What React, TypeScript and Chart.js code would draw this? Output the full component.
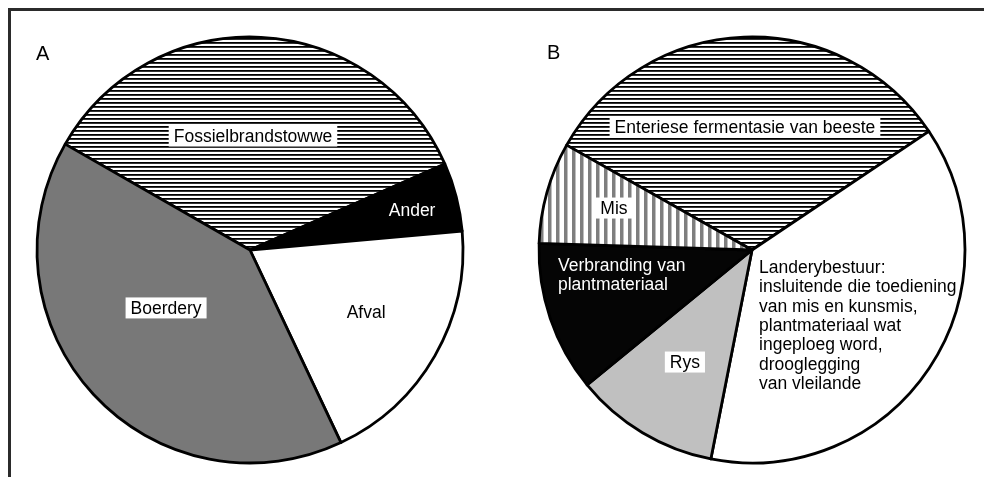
import React, { useEffect, useRef } from "react";
import { Chart, registerables } from "chart.js";

Chart.register(...registerables);

// ---- Data ----
const categoriesA = ["Fossielbrandstowwe", "Ander", "Afval", "Boerdery"];
const valuesA = [35.1, 5.2, 19.4, 40.3];

const categoriesB = [
  "Enteriese fermentasie van beeste",
  "Landerybestuur",
  "Rys",
  "Verbranding van plantmateriaal",
  "Mis",
];
const valuesB = [32.4, 37.5, 11.0, 11.4, 7.7];

const labelLinesA = [["Fossielbrandstowwe"], ["Ander"], ["Afval"], ["Boerdery"]];
const labelLinesB = [
  ["Enteriese fermentasie van beeste"],
  [
    "Landerybestuur:",
    "insluitende die toediening",
    "van mis en kunsmis,",
    "plantmateriaal wat",
    "ingeploeg word,",
    "drooglegging",
    "van vleilande",
  ],
  ["Rys"],
  ["Verbranding van", "plantmateriaal"],
  ["Mis"],
];

const panelTitles = ["A", "B"];

// ---- Layout / style (not data) ----
type LabelStyle = { fx: number; fy: number; color: string; box: boolean; align: "center" | "left" };

const labelStyleA: LabelStyle[] = [
  { fx: 0.014, fy: -0.535, color: "#000", box: true, align: "center" },
  { fx: 0.761, fy: -0.188, color: "#fff", box: false, align: "center" },
  { fx: 0.545, fy: 0.291, color: "#000", box: false, align: "center" },
  { fx: -0.394, fy: 0.272, color: "#000", box: true, align: "center" },
];
const labelStyleB: LabelStyle[] = [
  { fx: -0.033, fy: -0.577, color: "#000", box: true, align: "center" },
  { fx: 0.033, fy: 0.08, color: "#000", box: false, align: "left" },
  { fx: -0.315, fy: 0.526, color: "#000", box: true, align: "center" },
  { fx: -0.911, fy: 0.07, color: "#fff", box: false, align: "left" },
  { fx: -0.648, fy: -0.197, color: "#000", box: true, align: "center" },
];

const FONT = '17.5px "Liberation Sans", Arial, sans-serif';
const LINE_H = 19.4;
const CANVAS = 440;
const RADIUS = 213;

function hStripes(): CanvasPattern | string {
  const c = document.createElement("canvas");
  c.width = 8;
  c.height = 8;
  const x = c.getContext("2d");
  if (!x) return "#888";
  x.fillStyle = "#fff";
  x.fillRect(0, 0, 8, 8);
  x.fillStyle = "#000";
  x.fillRect(0, 0, 8, 1.8);
  x.fillRect(0, 4, 8, 1.8);
  return x.createPattern(c, "repeat") || "#888";
}

function vStripes(): CanvasPattern | string {
  const c = document.createElement("canvas");
  c.width = 8;
  c.height = 8;
  const x = c.getContext("2d");
  if (!x) return "#bbb";
  x.fillStyle = "#fff";
  x.fillRect(0, 0, 8, 8);
  x.fillStyle = "#7e7e7e";
  x.fillRect(0, 0, 3.5, 8);
  return x.createPattern(c, "repeat") || "#bbb";
}

function makeLabelPlugin(lines: string[][], styles: LabelStyle[]) {
  return {
    id: "sliceLabels",
    afterDatasetsDraw(chart: any) {
      const meta = chart.getDatasetMeta(0);
      const ctx: CanvasRenderingContext2D = chart.ctx;
      ctx.save();
      ctx.font = FONT;
      ctx.textBaseline = "middle";
      meta.data.forEach((el: any, i: number) => {
        const st = styles[i];
        const txt = lines[i];
        if (!st || !txt) return;
        const p = el.getProps(["x", "y", "outerRadius"], true);
        const bx = p.x + st.fx * p.outerRadius;
        const by = p.y + st.fy * p.outerRadius;
        txt.forEach((line, k) => {
          const w = ctx.measureText(line).width;
          const ly = by + k * LINE_H;
          const left = st.align === "center" ? bx - w / 2 : bx;
          if (st.box) {
            ctx.fillStyle = "#fff";
            ctx.fillRect(left - 5, ly - 10.5, w + 10, 21);
          }
          ctx.fillStyle = st.color;
          ctx.textAlign = "left";
          ctx.fillText(line, left, ly + 1);
        });
      });
      ctx.restore();
    },
  };
}

function makeChart(
  canvas: HTMLCanvasElement,
  labels: string[],
  values: number[],
  colors: (string | CanvasPattern)[],
  rotation: number,
  plugin: any
) {
  return new Chart(canvas, {
    type: "pie",
    data: {
      labels,
      datasets: [
        {
          data: values,
          backgroundColor: colors as any,
          borderColor: "#000",
          borderWidth: 2.8,
          borderJoinStyle: "round",
        } as any,
      ],
    },
    options: {
      responsive: false,
      animation: false,
      rotation,
      radius: RADIUS,
      events: [],
      layout: { padding: 0 },
      plugins: {
        legend: { display: false },
        tooltip: { enabled: false },
      },
    } as any,
    plugins: [plugin],
  });
}

export default function App() {
  const refA = useRef<HTMLCanvasElement>(null);
  const refB = useRef<HTMLCanvasElement>(null);

  useEffect(() => {
    if (!refA.current || !refB.current) return;
    const chartA = makeChart(
      refA.current,
      categoriesA,
      valuesA,
      [hStripes(), "#000000", "#ffffff", "#787878"],
      -60.2,
      makeLabelPlugin(labelLinesA, labelStyleA)
    );
    const chartB = makeChart(
      refB.current,
      categoriesB,
      valuesB,
      [hStripes(), "#ffffff", "#c0c0c0", "#050505", vStripes()],
      -60.5,
      makeLabelPlugin(labelLinesB, labelStyleB)
    );
    return () => {
      chartA.destroy();
      chartB.destroy();
    };
  }, []);

  const titleStyle: React.CSSProperties = {
    position: "absolute",
    font: '20px "Liberation Sans", Arial, sans-serif',
    color: "#000",
    lineHeight: "20px",
  };

  return (
    <div
      style={{
        position: "fixed",
        left: 0,
        top: 0,
        width: 984,
        height: 477,
        background: "#fff",
        overflow: "hidden",
      }}
    >
      <div
        style={{
          position: "absolute",
          left: 8,
          top: 8,
          right: 0,
          bottom: 0,
          borderTop: "3px solid #2b2b2b",
          borderLeft: "3px solid #2b2b2b",
        }}
      />
      <canvas
        ref={refA}
        width={CANVAS}
        height={CANVAS}
        style={{ position: "absolute", left: 30, top: 30, width: CANVAS, height: CANVAS }}
      />
      <canvas
        ref={refB}
        width={CANVAS}
        height={CANVAS}
        style={{ position: "absolute", left: 532, top: 30, width: CANVAS, height: CANVAS }}
      />
      <div style={{ ...titleStyle, left: 36, top: 43 }}>{panelTitles[0]}</div>
      <div style={{ ...titleStyle, left: 547, top: 42 }}>{panelTitles[1]}</div>
    </div>
  );
}
